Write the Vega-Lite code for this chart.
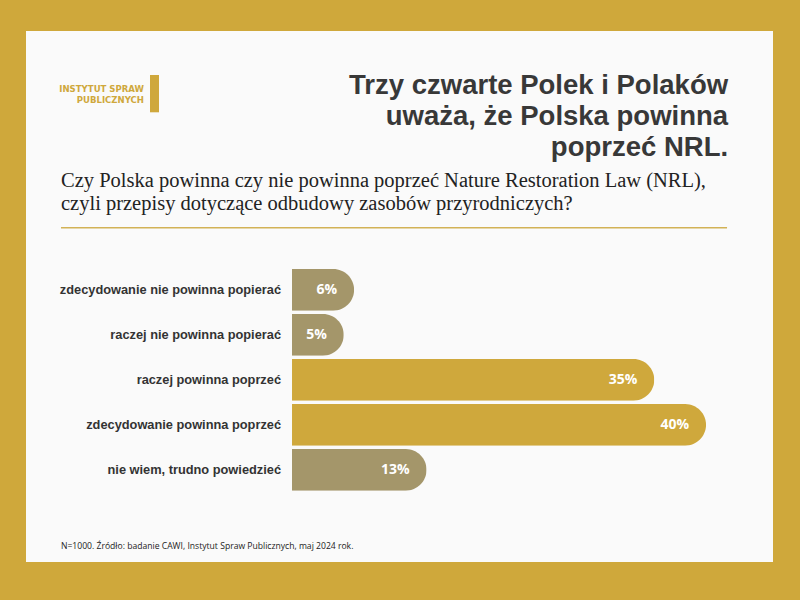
{
  "$schema": "https://vega.github.io/schema/vega-lite/v6.json",
  "width": 747,
  "height": 531,
  "autosize": {"type": "none"},
  "padding": {"left": 26, "top": 31, "right": 27, "bottom": 38},
  "background": "#CFA83B",
  "config": {"view": {"fill": "#FAFAFA", "stroke": null}},
  "resolve": {"scale": {"y": "independent"}},
  "layer": [
    {
      "data": {"values": [
        {"odp": "zdecydowanie nie powinna popierać", "proc": 0.06, "grupa": "przeciw"},
        {"odp": "raczej nie powinna popierać", "proc": 0.05, "grupa": "przeciw"},
        {"odp": "raczej powinna poprzeć", "proc": 0.35, "grupa": "za"},
        {"odp": "zdecydowanie powinna poprzeć", "proc": 0.40, "grupa": "za"},
        {"odp": "nie wiem, trudno powiedzieć", "proc": 0.13, "grupa": "brak"}
      ]},
      "encoding": {
        "y": {"field": "odp", "type": "nominal", "sort": null, "axis": null,
              "scale": {"paddingInner": 0.0733, "paddingOuter": 0, "range": [238, 459.7]}}
      },
      "layer": [
        {
          "mark": {"type": "bar", "cornerRadiusEnd": 21},
          "encoding": {
            "x": {"field": "proc", "type": "quantitative", "axis": null,
                  "scale": {"domain": [-0.2570, 0.4647], "nice": false, "zero": false}},
            "color": {"field": "grupa", "type": "nominal", "legend": null,
                      "scale": {"domain": ["przeciw", "za", "brak"], "range": ["#A4966A", "#CFA83C", "#A4966A"]}}
          }
        },
        {
          "mark": {"type": "text", "align": "right", "baseline": "middle", "dx": -17,
                   "font": "Open Sans", "fontWeight": "bold", "fontSize": 14, "color": "#FFFFFF"},
          "encoding": {
            "x": {"field": "proc", "type": "quantitative",
                  "scale": {"domain": [-0.2570, 0.4647], "nice": false, "zero": false}},
            "text": {"field": "proc", "type": "quantitative", "format": ".0%"}
          }
        },
        {
          "mark": {"type": "text", "align": "right", "baseline": "middle", "dx": -11,
                   "font": "Liberation Sans", "fontWeight": "bold", "fontSize": 12.8, "color": "#333333"},
          "encoding": {
            "x": {"datum": 0, "type": "quantitative",
                  "scale": {"domain": [-0.2570, 0.4647], "nice": false, "zero": false}},
            "text": {"field": "odp", "type": "nominal"}
          }
        }
      ]
    },
    {
      "data": {"values": [{"t": "Trzy czwarte Polek i Polaków\nuważa, że Polska powinna\npoprzeć NRL."}]},
      "mark": {"type": "text", "align": "right", "baseline": "alphabetic", "lineBreak": "\n", "lineHeight": 31,
               "font": "Liberation Sans", "fontWeight": "bold", "fontSize": 27.5, "color": "#383838"},
      "encoding": {
        "x": {"datum": 0.4213, "type": "quantitative", "scale": {"domain": [-0.2570, 0.4647], "nice": false, "zero": false}},
        "y": {"datum": 62.5, "type": "quantitative", "axis": null, "scale": {"domain": [0, 531], "reverse": true, "nice": false, "zero": false}},
        "text": {"field": "t", "type": "nominal"}
      }
    },
    {
      "data": {"values": [{"t": "INSTYTUT SPRAW\nPUBLICZNYCH"}]},
      "mark": {"type": "text", "align": "right", "baseline": "alphabetic", "lineBreak": "\n", "lineHeight": 10.5,
               "font": "DejaVu Sans Condensed", "fontWeight": "bold", "fontSize": 9.5, "color": "#CFA83C"},
      "encoding": {
        "x": {"datum": -0.1430, "type": "quantitative", "scale": {"domain": [-0.2570, 0.4647], "nice": false, "zero": false}},
        "y": {"datum": 61.3, "type": "quantitative", "axis": null, "scale": {"domain": [0, 531], "reverse": true, "nice": false, "zero": false}},
        "text": {"field": "t", "type": "nominal"}
      }
    },
    {
      "data": {"values": [{"element": "logo"}]},
      "mark": {"type": "rect", "color": "#CFA83C"},
      "encoding": {
        "x": {"datum": -0.1372, "type": "quantitative", "scale": {"domain": [-0.2570, 0.4647], "nice": false, "zero": false}},
        "x2": {"datum": -0.1285},
        "y": {"datum": 44, "type": "quantitative", "axis": null, "scale": {"domain": [0, 531], "reverse": true, "nice": false, "zero": false}},
        "y2": {"datum": 81.3}
      }
    },
    {
      "data": {"values": [{"t": "Czy Polska powinna czy nie powinna poprzeć Nature Restoration Law (NRL),\nczyli przepisy dotyczące odbudowy zasobów przyrodniczych?"}]},
      "mark": {"type": "text", "align": "left", "baseline": "alphabetic", "lineBreak": "\n", "lineHeight": 23,
               "font": "Liberation Serif", "fontSize": 20.5, "color": "#222222"},
      "encoding": {
        "x": {"datum": -0.2232, "type": "quantitative", "scale": {"domain": [-0.2570, 0.4647], "nice": false, "zero": false}},
        "y": {"datum": 156, "type": "quantitative", "axis": null, "scale": {"domain": [0, 531], "reverse": true, "nice": false, "zero": false}},
        "text": {"field": "t", "type": "nominal"}
      }
    },
    {
      "data": {"values": [{"element": "linia"}]},
      "mark": {"type": "rule", "color": "#D2B256", "strokeWidth": 1.5},
      "encoding": {
        "x": {"datum": -0.2232, "type": "quantitative", "scale": {"domain": [-0.2570, 0.4647], "nice": false, "zero": false}},
        "x2": {"datum": 0.4203},
        "y": {"datum": 196.7, "type": "quantitative", "axis": null, "scale": {"domain": [0, 531], "reverse": true, "nice": false, "zero": false}}
      }
    },
    {
      "data": {"values": [{"t": "N=1000. Źródło: badanie CAWI, Instytut Spraw Publicznych, maj 2024 rok."}]},
      "mark": {"type": "text", "align": "left", "baseline": "alphabetic",
               "font": "Open Sans", "fontSize": 8.6, "color": "#222222"},
      "encoding": {
        "x": {"datum": -0.2232, "type": "quantitative", "scale": {"domain": [-0.2570, 0.4647], "nice": false, "zero": false}},
        "y": {"datum": 517.5, "type": "quantitative", "axis": null, "scale": {"domain": [0, 531], "reverse": true, "nice": false, "zero": false}},
        "text": {"field": "t", "type": "nominal"}
      }
    }
  ]
}
